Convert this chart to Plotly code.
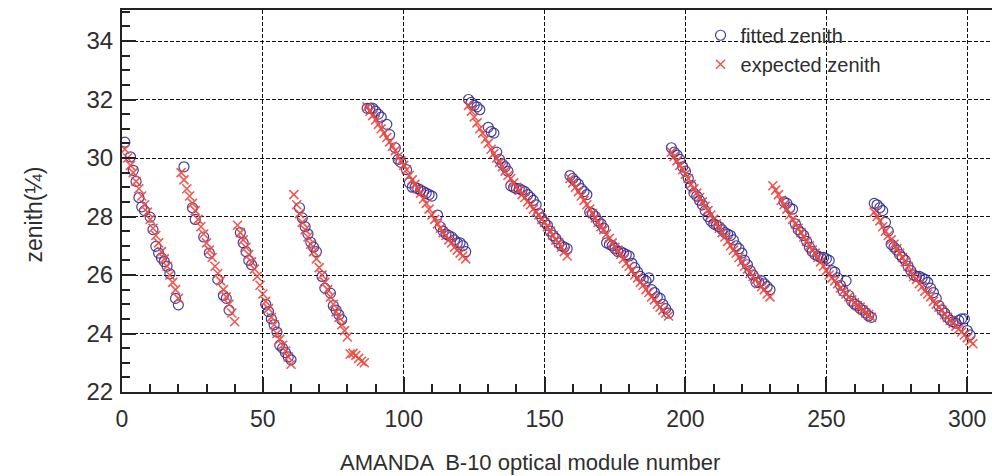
import plotly.graph_objects as go

# ---------------- data ----------------
# expected zenith per string (consecutive optical-module numbers from the start value)
exp_starts = [1, 21, 41, 61, 81, 87, 123, 159, 195, 231, 267]
exp_s1 = [30.3, 30.0, 29.75, 29.5, 29.2, 28.95, 28.7, 28.4, 28.15, 27.9, 27.6, 27.35, 27.1, 26.8, 26.55, 26.3, 26.0, 25.75, 25.5, 25.2]
exp_s2 = [29.5, 29.25, 28.95, 28.7, 28.45, 28.2, 27.9, 27.65, 27.4, 27.1, 26.85, 26.6, 26.3, 26.05, 25.8, 25.5, 25.25, 25.0, 24.7, 24.4]
exp_s3 = [27.7, 27.45, 27.2, 26.95, 26.7, 26.45, 26.2, 25.95, 25.65, 25.35, 25.1, 24.85, 24.55, 24.3, 24.0, 23.8, 23.6, 23.4, 23.2, 22.95]
exp_s4 = [28.75, 28.4, 28.1, 27.8, 27.55, 27.3, 27.05, 26.8, 26.55, 26.25, 26.0, 25.75, 25.5, 25.25, 25.0, 24.75, 24.55, 24.3, 24.1, 23.88]
exp_extra = [23.3, 23.32, 23.25, 23.15, 23.05, 23.0]
exp_s5 = [31.75, 31.6, 31.45, 31.3, 31.15, 31.0, 30.85, 30.7, 30.55, 30.4, 30.25, 30.05, 29.9, 29.75, 29.6, 29.4, 29.25, 29.1,
          28.95, 28.8, 28.6, 28.45, 28.25, 28.05, 27.9, 27.75, 27.6, 27.45, 27.35, 27.2, 27.1, 26.95, 26.85, 26.75, 26.65, 26.55]
exp_s6 = [31.8, 31.6, 31.4, 31.2, 31.0, 30.85, 30.65, 30.5, 30.3, 30.15, 30.0, 29.85, 29.7, 29.55, 29.4, 29.3, 29.15, 29.0,
          28.9, 28.75, 28.65, 28.5, 28.4, 28.25, 28.15, 28.05, 27.9, 27.8, 27.65, 27.5, 27.35, 27.2, 27.1, 26.95, 26.8, 26.65]
exp_s7 = [29.3, 29.15, 29.0, 28.85, 28.7, 28.55, 28.4, 28.25, 28.1, 27.95, 27.8, 27.65, 27.55, 27.4, 27.25, 27.1, 26.95, 26.85,
          26.7, 26.55, 26.4, 26.3, 26.15, 26.0, 25.9, 25.75, 25.65, 25.5, 25.4, 25.25, 25.15, 25.0, 24.9, 24.8, 24.7, 24.6]
exp_s8 = [30.2, 30.05, 29.9, 29.75, 29.6, 29.45, 29.3, 29.1, 28.95, 28.8, 28.65, 28.5, 28.35, 28.2, 28.05, 27.9, 27.75, 27.6,
          27.45, 27.3, 27.15, 27.0, 26.85, 26.75, 26.6, 26.45, 26.3, 26.2, 26.05, 25.95, 25.85, 25.7, 25.6, 25.5, 25.35, 25.25]
exp_s9 = [29.05, 28.9, 28.75, 28.55, 28.4, 28.25, 28.05, 27.9, 27.75, 27.6, 27.45, 27.3, 27.15, 27.0, 26.85, 26.75, 26.6, 26.45,
          26.3, 26.15, 26.0, 25.9, 25.8, 25.7, 25.55, 25.45, 25.35, 25.25, 25.15, 25.05, 24.95, 24.9, 24.8, 24.7, 24.65, 24.55]
exp_s10 = [28.15, 28.0, 27.85, 27.65, 27.5, 27.35, 27.2, 27.05, 26.9, 26.75, 26.6, 26.45, 26.3, 26.1, 25.95, 25.85, 25.7, 25.6,
           25.45, 25.35, 25.25, 25.1, 25.0, 24.9, 24.8, 24.65, 24.55, 24.45, 24.35, 24.25, 24.15, 24.05, 23.95, 23.85, 23.75, 23.65]
exp_strings = [exp_s1, exp_s2, exp_s3, exp_s4, exp_extra, exp_s5, exp_s6, exp_s7, exp_s8, exp_s9, exp_s10]

# fitted zenith (module number, value)
fit_x1 = [1, 3, 4, 5, 6, 7, 8, 10, 11, 12, 13, 14, 15, 16, 17, 19, 20]
fit_y1 = [30.54, 30.04, 29.58, 29.2, 28.65, 28.33, 28.2, 27.98, 27.55, 26.98, 26.75, 26.58, 26.46, 26.3, 26.04, 25.2, 24.98]
fit_x2 = [22, 25, 26, 29, 31, 34, 36, 37, 38]
fit_y2 = [29.7, 28.3, 27.9, 27.3, 26.75, 25.85, 25.3, 25.2, 24.8]
fit_x3 = [42, 43, 44, 45, 46, 51, 52, 53, 54, 55, 56, 57, 58, 59, 60]
fit_y3 = [27.45, 27.1, 26.8, 26.5, 26.35, 25.0, 24.75, 24.5, 24.3, 24.05, 23.6, 23.5, 23.35, 23.2, 23.1]
fit_x4 = [63, 64, 65, 66, 67, 68, 69, 71, 72, 74, 75, 76, 77, 78]
fit_y4 = [28.3, 27.95, 27.65, 27.4, 27.12, 26.95, 26.8, 25.95, 25.55, 25.38, 24.95, 24.8, 24.64, 24.47]
fit_x5 = [87, 88, 89, 90, 91, 92, 94, 95, 97, 98, 99, 101, 102, 103, 104, 105, 106, 107, 108, 109, 110,
          112, 113, 114, 115, 116, 117, 118, 119, 120, 121, 122]
fit_y5 = [31.7, 31.7, 31.7, 31.6, 31.5, 31.4, 31.15, 30.8, 30.35, 29.95, 29.85, 29.6, 29.15, 29.0, 29.0, 28.95, 28.9, 28.85,
          28.8, 28.75, 28.7, 28.05, 27.65, 27.5, 27.4, 27.35, 27.3, 27.2, 27.1, 27.1, 27.0, 26.8]
fit_x6 = [123, 124, 125, 126, 127, 130, 131, 132, 133, 134, 135, 136, 137, 138, 139, 140, 141, 142, 143, 144, 145,
          146, 147, 148, 149, 150, 151, 152, 153, 154, 155, 156, 157, 158]
fit_y6 = [32.0, 31.9, 31.8, 31.75, 31.65, 31.05, 30.9, 30.85, 30.2, 29.95, 29.8, 29.7, 29.55, 29.05, 29.0, 28.95, 28.95,
          28.9, 28.85, 28.75, 28.65, 28.55, 28.4, 28.1, 27.95, 27.8, 27.7, 27.5, 27.35, 27.25, 27.1, 27.0, 26.95, 26.9]
fit_x7 = list(range(159, 195))
fit_y7 = [29.4, 29.3, 29.2, 29.1, 28.95, 28.85, 28.75, 28.15, 28.1, 28.0, 27.85, 27.75, 27.6, 27.1, 27.05, 27.0, 26.9, 26.8,
          26.8, 26.75, 26.7, 26.65, 26.4, 26.25, 26.1, 25.95, 25.85, 25.8, 25.9, 25.5, 25.4, 25.25, 25.2, 25.0, 24.85, 24.7]
fit_x8 = list(range(195, 231))
fit_y8 = [30.35, 30.2, 30.1, 29.95, 29.7, 29.55, 29.3, 29.05, 28.8, 28.7, 28.55, 28.4, 28.2, 28.0, 27.85, 27.75, 27.7, 27.65,
          27.55, 27.45, 27.4, 27.35, 27.2, 27.0, 26.9, 26.75, 26.5, 26.35, 26.15, 26.0, 25.75, 25.75, 25.8, 25.7, 25.6, 25.5]
fit_x9 = list(range(235, 267))
fit_y9 = [28.5, 28.45, 28.3, 28.25, 27.75, 27.55, 27.45, 27.35, 27.15, 26.95, 26.8, 26.7, 26.65, 26.6, 26.6, 26.55, 26.5,
          26.15, 26.1, 25.9, 25.65, 25.45, 25.8, 25.3, 25.1, 25.0, 24.95, 24.85, 24.8, 24.7, 24.6, 24.55]
fit_x10 = list(range(267, 302))
fit_y10 = [28.45, 28.4, 28.3, 28.2, 27.8, 27.5, 27.05, 26.95, 26.85, 26.7, 26.6, 26.5, 26.3, 26.15, 26.0, 25.95, 25.95,
           25.9, 25.85, 25.75, 25.55, 25.4, 25.2, 24.95, 24.8, 24.7, 24.55, 24.45, 24.4, 24.35, 24.45, 24.5, 24.5, 24.1, 23.95]

fit_x_all = [fit_x1, fit_x2, fit_x3, fit_x4, fit_x5, fit_x6, fit_x7, fit_x8, fit_x9, fit_x10]
fit_y_all = [fit_y1, fit_y2, fit_y3, fit_y4, fit_y5, fit_y6, fit_y7, fit_y8, fit_y9, fit_y10]

x_ticks = [0, 50, 100, 150, 200, 250, 300]
y_ticks = [22, 24, 26, 28, 30, 32, 34]

# ---------------- build ----------------
exp_x, exp_y = [], []
for s0, vals in zip(exp_starts, exp_strings):
    for i, v in enumerate(vals):
        exp_x.append(s0 + i)
        exp_y.append(v)
fx, fy = [], []
for xs, ys in zip(fit_x_all, fit_y_all):
    fx += xs
    fy += ys

FONT = "Liberation Sans, Arial, sans-serif"
TXT = "#2e2e2e"
RED = "rgba(236,72,62,0.9)"
fig = go.Figure()
fig.add_trace(go.Scatter(
    x=fx, y=fy, mode="markers", name="fitted zenith",
    marker=dict(symbol="circle-open", size=10, color="rgba(45,45,150,0.9)", line=dict(width=1.2)),
))
fig.add_trace(go.Scatter(
    x=exp_x, y=exp_y, mode="markers", name="expected zenith",
    marker=dict(symbol="x-thin-open", size=9, color=RED, line=dict(width=1.6, color=RED)),
))

fig.update_layout(
    width=992, height=476,
    margin=dict(l=122, r=0, t=10, b=84),
    plot_bgcolor="white", paper_bgcolor="white",
    font=dict(family=FONT, size=23, color=TXT),
    showlegend=True,
    legend=dict(x=0.665, y=0.985, xanchor="left", yanchor="top", bgcolor="rgba(0,0,0,0)",
                font=dict(size=20, color=TXT), tracegroupgap=0, itemsizing="trace"),
    xaxis=dict(
        range=[0, 308.8], tickvals=x_ticks, ticks="inside", ticklen=15, tickwidth=1.5, tickcolor="#222",
        showline=True, linecolor="#222", linewidth=2, mirror=True,
        showgrid=True, gridcolor="#111", gridwidth=1.4, griddash="4px,2px",
        zeroline=False, tickfont=dict(size=23, color=TXT), ticklabelstandoff=5,
        minor=dict(dtick=10, ticks="inside", ticklen=8, tickwidth=1.5, tickcolor="#222", showgrid=False),
    ),
    yaxis=dict(
        range=[22, 35.06], tickvals=y_ticks, ticks="inside", ticklen=14, tickwidth=1.5, tickcolor="#222",
        showline=True, linecolor="#222", linewidth=2,
        showgrid=True, gridcolor="#111", gridwidth=1.4, griddash="4px,2px",
        zeroline=False, tickfont=dict(size=24, color=TXT), ticklabelstandoff=2,
        minor=dict(dtick=0.5, ticks="inside", ticklen=8, tickwidth=1.5, tickcolor="#222", showgrid=False),
    ),
    annotations=[
        dict(text="AMANDA  B-10 optical module number", xref="paper", yref="paper", x=0.469, y=-0.185,
             xanchor="center", yanchor="middle", showarrow=False, font=dict(size=22, color=TXT)),
        dict(text="zenith(¼)", xref="paper", yref="paper", x=-0.101, y=0.465, textangle=-90,
             xanchor="center", yanchor="middle", showarrow=False, font=dict(size=23, color=TXT)),
    ],
)

fig.write_html("out.html")
